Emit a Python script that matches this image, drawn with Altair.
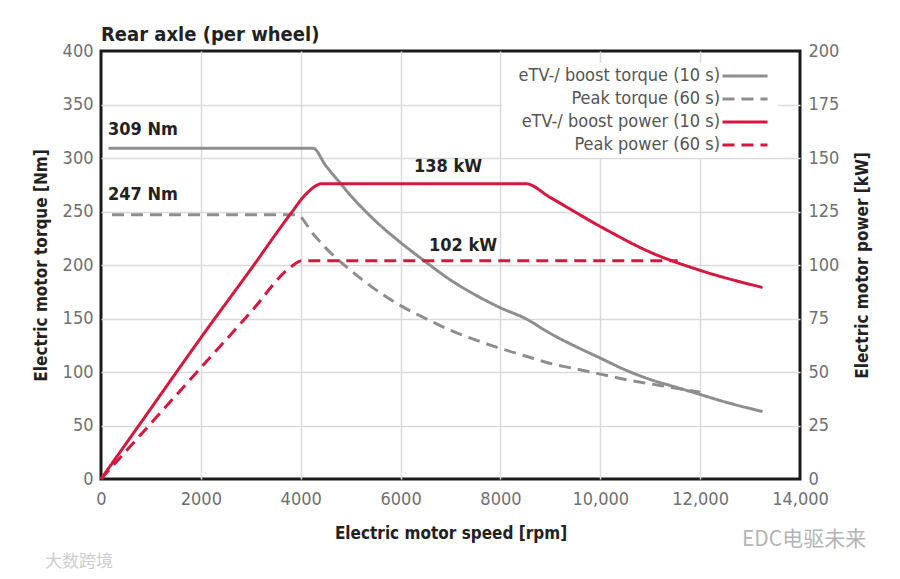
import altair as alt
import pandas as pd

FONT = "Liberation Sans Narrow, DejaVu Sans Condensed, Roboto Condensed, sans-serif"
GRAY = "#8e8e8e"
RED = "#d6173f"

# series names (legend order)
series_names = [
    "eTV-/ boost torque (10 s)",
    "Peak torque (60 s)",
    "eTV-/ boost power (10 s)",
    "Peak power (60 s)",
]

# gray solid: eTV/boost torque [Nm]
boost_torque_rpm = [150, 4250, 4500, 4800, 5000, 5500, 6000, 6500, 7000, 7500, 8000, 8500,
                    9000, 9500, 10000, 10500, 11000, 11500, 12000, 12500, 13250]
boost_torque_nm = [309, 309, 293, 276, 265, 241, 221, 203, 186, 172, 160, 150,
                   136, 124, 113, 102, 93, 86, 79, 72, 63]

# gray dashed: peak torque [Nm]
peak_torque_rpm = [220, 3920, 4250, 4500, 5000, 5500, 6000, 6500, 7000, 7500, 8000, 8500,
                   9000, 9500, 10000, 10500, 11000, 11500, 12000]
peak_torque_nm = [247, 247, 229, 216, 195, 177, 162, 150, 139, 130, 122, 115,
                  108, 103, 98, 93, 89, 85, 81]

# red solid: eTV/boost power [kW]
boost_power_rpm = [0, 1000, 2000, 3000, 3800, 4100, 4430, 8500, 9000, 10000, 11000, 12000, 13250]
boost_power_kw = [0, 33, 66, 98, 124, 133, 138, 138, 131.5, 118, 106, 97.5, 89.5]

# red dashed: peak power [kW]
peak_power_rpm = [0, 1000, 2000, 3000, 3800, 4020, 11550]
peak_power_kw = [0, 26, 52, 78, 99, 102, 102]

# value notes
torque_notes = ["309 Nm", "247 Nm"]
torque_note_rpm = [140, 140]
torque_note_nm = [326, 265]
power_notes = ["138 kW", "102 kW"]
power_note_rpm = [6950, 7250]
power_note_kw = [146, 109]

x_ticks = [0, 2000, 4000, 6000, 8000, 10000, 12000, 14000]
torque_ticks = list(range(0, 401, 50))
power_ticks = list(range(0, 201, 25))

torque_df = pd.concat([
    pd.DataFrame({"rpm": boost_torque_rpm, "torque": boost_torque_nm, "series": series_names[0]}),
    pd.DataFrame({"rpm": peak_torque_rpm, "torque": peak_torque_nm, "series": series_names[1]}),
])
power_df = pd.concat([
    pd.DataFrame({"rpm": boost_power_rpm, "power": boost_power_kw, "series": series_names[2]}),
    pd.DataFrame({"rpm": peak_power_rpm, "power": peak_power_kw, "series": series_names[3]}),
])

# labels sit left of the line swatches, as in the original
legend = alt.Legend(
    title=None, orient="none", legendX=401, legendY=12, fillColor="white", padding=4,
    symbolType="M-4,0H4", symbolSize=127, symbolStrokeWidth=3,
    symbolOffset=230, labelOffset={"expr": "-34"}, labelAlign="right", labelLimit=400,
    labelFont=FONT, labelFontSize=18, labelColor="#555555", rowPadding=5,
)
color = alt.Color("series:N", scale=alt.Scale(domain=series_names, range=[GRAY, GRAY, RED, RED]), legend=legend)
dash = alt.StrokeDash("series:N", scale=alt.Scale(domain=series_names, range=[[1, 0], [12, 7], [1, 0], [12, 7]]), legend=legend)

# no grid lines on the frame edges, so the black frame stays black
x_grid = {"condition": {"test": "datum.value == 0 || datum.value == 14000", "value": 0}, "value": 1}
y_grid = {"condition": {"test": "datum.value == 0 || datum.value == 400", "value": 0}, "value": 1}

x_scale = alt.Scale(domain=[0, 14000], nice=False)
x_enc = alt.X("rpm:Q", scale=x_scale, axis=alt.Axis(
    values=x_ticks, title="Electric motor speed [rpm]", titlePadding=17, labelPadding=11,
    labelFlush=False, gridOpacity=x_grid,
    labelExpr="datum.value >= 10000 ? format(datum.value, ',') : format(datum.value, 'd')"))
torque_scale = alt.Scale(domain=[0, 400], nice=False)
power_scale = alt.Scale(domain=[0, 200], nice=False)

torque_lines = alt.Chart(torque_df).mark_line(strokeWidth=3, interpolate="monotone").encode(
    x=x_enc,
    y=alt.Y("torque:Q", scale=torque_scale, axis=alt.Axis(
        values=torque_ticks, title="Electric motor torque [Nm]", titlePadding=12,
        gridOpacity=y_grid)),
    color=color, strokeDash=dash,
)
torque_text = alt.Chart(pd.DataFrame({"rpm": torque_note_rpm, "torque": torque_note_nm, "t": torque_notes})).mark_text(
    align="left", baseline="middle", font=FONT, fontSize=18, fontWeight="bold", color="#222222"
).encode(
    x=alt.X("rpm:Q", scale=x_scale),
    y=alt.Y("torque:Q", scale=torque_scale),
    text="t:N",
)
marks = alt.Chart(pd.DataFrame({"t": ["EDC电驱未来"]})).mark_text(
    align="left", baseline="middle", font="Noto Sans CJK SC", fontSize=21, color="#b4b4b4"
).encode(x=alt.value(641), y=alt.value(489), text="t:N")
marks2 = alt.Chart(pd.DataFrame({"t": ["大数跨境"]})).mark_text(
    align="left", baseline="middle", font="Noto Sans CJK SC", fontSize=17, color="#cccccc"
).encode(x=alt.value(-56), y=alt.value(511), text="t:N")

power_lines = alt.Chart(power_df).mark_line(strokeWidth=3, interpolate="monotone").encode(
    x=x_enc,
    y=alt.Y("power:Q", scale=power_scale, axis=alt.Axis(
        values=power_ticks, orient="right", grid=False, title="Electric motor power [kW]",
        titleAngle=270, titlePadding=33)),
    color=color, strokeDash=dash,
)
power_text = alt.Chart(pd.DataFrame({"rpm": power_note_rpm, "power": power_note_kw, "t": power_notes})).mark_text(
    align="center", baseline="middle", font=FONT, fontSize=18, fontWeight="bold", color="#222222"
).encode(
    x=alt.X("rpm:Q", scale=x_scale),
    y=alt.Y("power:Q", scale=power_scale),
    text="t:N",
)

chart = alt.layer(
    alt.layer(torque_lines, torque_text, marks, marks2),
    alt.layer(power_lines, power_text),
).resolve_scale(
    y="independent"
).properties(
    width=699, height=428,
    autosize=alt.AutoSizeParams(type="none"),
    padding={"left": 93, "top": 43, "right": 92, "bottom": 92},
    title=alt.TitleParams("Rear axle (per wheel)", anchor="start", frame="group", font=FONT,
                          fontSize=20, fontWeight="bold", color="#222222", offset=-3),
).configure_axis(
    labelFont=FONT, labelFontSize=18, labelColor="#707070", labelPadding=8,
    titleFont=FONT, titleFontSize=17, titleFontWeight="bold", titleColor="#222222",
    ticks=False, domain=False, gridColor="#dadada", gridWidth=1.5,
).configure_view(
    stroke="#1a1a1a", strokeWidth=3
)

chart.save("out.html", embed_options={"renderer": "svg", "actions": False})
